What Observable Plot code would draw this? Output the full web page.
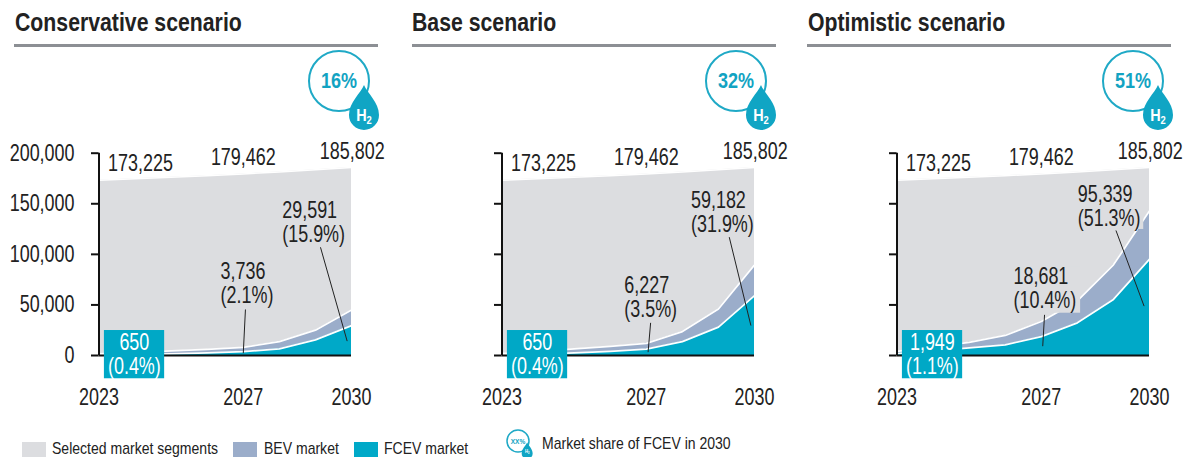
<!DOCTYPE html>
<html>
<head>
<meta charset="utf-8">
<script src="https://cdn.jsdelivr.net/npm/d3@7"></script>
<script src="https://cdn.jsdelivr.net/npm/@observablehq/plot@0.6"></script>
<style>
html,body{margin:0;padding:0;background:#fff;}
#root{position:relative;width:1190px;height:457px;overflow:hidden;font-family:"Liberation Sans",Arial,sans-serif;color:#222;}
.panel{position:absolute;top:130px;width:396px;}
.panel svg{max-width:none;}
.title{position:absolute;top:5px;font-weight:700;font-size:25px;line-height:34px;white-space:nowrap;color:#222;transform:scaleX(.85);transform-origin:0 0;}
.rule{position:absolute;top:44px;height:3px;background:#8c8f94;}
.lg{position:absolute;font-size:17px;line-height:20px;white-space:nowrap;color:#222;transform:scaleX(.825);transform-origin:0 0;}
.sw{position:absolute;top:442px;width:24px;height:15px;}
.badge{position:absolute;overflow:visible;}
</style>
</head>
<body>
<div id="root"></div>
<script>
const years = [2023, 2024, 2025, 2026, 2027, 2028, 2029, 2030];
const selectedMarket = [173225, 174700, 176200, 177800, 179462, 181500, 183600, 185802];

const scenarioNames = ["Conservative scenario", "Base scenario", "Optimistic scenario"];
const badgeShares = ["16%", "32%", "51%"];

const bevConservative = [1700, 3000, 4500, 6000, 8000, 13800, 25000, 45000];
const fcevConservative = [650, 1000, 1600, 2500, 3736, 6600, 15500, 29591];
const bevBase = [2000, 4000, 6500, 9000, 12000, 23700, 46000, 89600];
const fcevBase = [650, 1300, 2500, 4000, 6227, 13800, 28000, 59182];
const bevOptimistic = [4000, 8500, 13000, 19800, 33600, 54000, 89600, 143000];
const fcevOptimistic = [1949, 4500, 7500, 10500, 18681, 32300, 55400, 95339];

const totalLabels = ["173,225", "179,462", "185,802"];
const startLabels = ["650\n(0.4%)", "650\n(0.4%)", "1,949\n(1.1%)"];
const midLabels = ["3,736\n(2.1%)", "6,227\n(3.5%)", "18,681\n(10.4%)"];
const endLabels = ["29,591\n(15.9%)", "59,182\n(31.9%)", "95,339\n(51.3%)"];

const xTicks = [2023, 2027, 2030];
const yTicks = [0, 50000, 100000, 150000, 200000];
const legendNames = ["Selected market segments", "BEV market", "FCEV market", "Market share of FCEV in 2030"];

const font = '"Liberation Sans",Arial,sans-serif';
const GRAY = "#dcdde0", BEV = "#9badca", FCEV = "#00a9c8", INK = "#222";
const FS = 23, SQUEEZE = 0.78, LH = 1.05;

// annotation anchors, in data units (mid and end labels are left aligned)
const totalAnchors = [{x: 2024.15, y: 189800}, {x: 2027, y: 195750}, {x: 2030.02, y: 202000}];
const midAnchors = [{x: 2026.37, y: 71400}, {x: 2026.39, y: 57300}, {x: 2026.23, y: 66200}];
const endAnchors = [{x: 2028.08, y: 131500}, {x: 2028.24, y: 141700}, {x: 2028.01, y: 147500}];
const midLeaders = [
  {x1: 2027.06, y1: 45500, x2: 2027, y2: 2300},
  {x1: 2027.12, y1: 32300, x2: 2027.05, y2: 3300},
  {x1: 2027.09, y1: 40200, x2: 2027.04, y2: 9200}
];
const endLeaders = [
  {x1: 2029.14, y1: 107000, x2: 2029.88, y2: 14200},
  {x1: 2029.3, y1: 117000, x2: 2029.9, y2: 29600},
  {x1: 2029.07, y1: 123600, x2: 2029.85, y2: 48800}
];
const maskRects = [[], [], [
  {x1: 2027.99, x2: 2029.84, y1: 124600, y2: 170000},
  {x1: 2026.23, x2: 2028.09, y1: 41800, y2: 87300}
]];
const panelLefts = [0, 402.5, 798.2];
const panelTitleLefts = [15, 412, 808];
const ruleLefts = [14, 412, 807];
const bevSeries = [bevConservative, bevBase, bevOptimistic];
const fcevSeries = [fcevConservative, fcevBase, fcevOptimistic];

const root = document.getElementById("root");

function el(cls, css, text) {
  const d = document.createElement("div");
  d.className = cls;
  Object.assign(d.style, css);
  if (text) d.textContent = text;
  root.appendChild(d);
  return d;
}

function badge(cx, cy, r, label, fs, fsH, sw, hY) {
  const ns = "http://www.w3.org/2000/svg";
  const s = document.createElementNS(ns, "svg");
  s.setAttribute("class", "badge");
  s.setAttribute("width", 2 * r + 40);
  s.setAttribute("height", 2 * r + 40);
  s.style.left = (cx - r - 5) + "px";
  s.style.top = (cy - r - 5) + "px";
  const k = r / 30;
  const ox = r + 5, oy = r + 5;
  s.innerHTML =
    `<circle cx="${ox}" cy="${oy}" r="${r}" fill="#fff" stroke="#1fa9c6" stroke-width="${sw}"/>` +
    `<text transform="translate(${ox},${oy + 7 * k}) scale(.82,1)" text-anchor="middle" font-family='${font}' font-weight="700" font-size="${fs}" fill="#12a3c2">${label}</text>` +
    `<path transform="translate(${ox + 25 * k},${oy + 4 * k}) scale(${k})" d="M0 0 C3 8 15 17 15 30 A15 15 0 0 1 -15 30 C-15 17 -3 8 0 0 Z" fill="#10a5c4"/>` +
    `<text transform="translate(${ox + 25 * k},${oy + hY * k}) scale(.85,1)" text-anchor="middle" font-family='${font}' font-weight="700" font-size="${fsH}" fill="#fff">H<tspan font-size="${fsH * 0.65}" dy="${3 * k}">2</tspan></text>`;
  root.appendChild(s);
}

scenarioNames.forEach((name, i) => {
  el("title", {left: panelTitleLefts[i] + "px"}, name);
  el("rule", {left: ruleLefts[i] + "px", width: "364px"});

  const rows = years.map((year, k) => ({year, sel: selectedMarket[k], bev: bevSeries[i][k], fcev: fcevSeries[i][k]}));
  const totals = totalLabels.map((t, k) => ({...totalAnchors[k], t}));
  const showY = i === 0;

  const chart = Plot.plot({
    width: 396,
    height: 290,
    marginLeft: 98.5,
    marginRight: 45,
    marginTop: 22.7,
    marginBottom: 65,
    style: {fontFamily: font, background: "transparent", overflow: "visible", color: INK},
    x: {type: "linear", domain: [2023, 2030]},
    y: {type: "linear", domain: [0, 200000]},
    marks: [
      Plot.areaY(rows, {x: "year", y: "sel", fill: GRAY}),
      Plot.lineY(rows, {x: "year", y: "sel", stroke: "#fff", strokeWidth: 1.5}),
      Plot.areaY(rows, {x: "year", y: "bev", fill: BEV}),
      Plot.lineY(rows, {x: "year", y: "bev", stroke: "#fff", strokeWidth: 1.8}),
      Plot.rect(maskRects[i], {x1: "x1", x2: "x2", y1: "y1", y2: "y2", fill: GRAY}),
      Plot.areaY(rows, {x: "year", y: "fcev", fill: FCEV}),
      Plot.lineY(rows, {x: "year", y: "fcev", stroke: "#fff", strokeWidth: 1.8}),
      Plot.ruleY([0], {stroke: "#111", strokeWidth: 2}),
      Plot.ruleX([2023], {y1: 0, y2: 200000, stroke: "#111", strokeWidth: 2}),
      Plot.axisY({
        ticks: yTicks,
        tickSize: 7.5,
        tickPadding: 17,
        strokeWidth: 2,
        stroke: "#111",
        fontSize: FS,
        fill: INK,
        label: null,
        tickFormat: showY ? (d => d3.format(",")(d)) : () => ""
      }),
      Plot.axisX({
        ticks: xTicks,
        tickSize: 0,
        tickPadding: 33,
        fontSize: FS,
        fill: INK,
        label: null,
        tickFormat: d3.format("d")
      }),
      Plot.text(totals, {x: "x", y: "y", text: "t", fontSize: FS, fill: INK}),
      Plot.rect([{x1: 2023.15, x2: 2024.82, y1: -23000, y2: 24700}], {x1: "x1", x2: "x2", y1: "y1", y2: "y2", fill: "#00a8c6"}),
      Plot.text([startLabels[i]], {x: [2023.98], y: [1200], text: d => d, fontSize: FS, fill: "#fff", lineHeight: LH}),
      Plot.text([midLabels[i]], {x: [midAnchors[i].x], y: [midAnchors[i].y], text: d => d, textAnchor: "start", fontSize: FS, fill: INK, lineHeight: LH}),
      Plot.text([endLabels[i]], {x: [endAnchors[i].x], y: [endAnchors[i].y], text: d => d, textAnchor: "start", fontSize: FS, fill: INK, lineHeight: LH}),
      Plot.link([midLeaders[i], endLeaders[i]], {x1: "x1", y1: "y1", x2: "x2", y2: "y2", stroke: "#222", strokeWidth: 1})
    ]
  });
  // the reference's type is a horizontally condensed Arial
  chart.querySelectorAll("text").forEach(t => {
    const tr = t.getAttribute("transform") || "";
    t.setAttribute("transform", `${tr} scale(${SQUEEZE},1)`);
  });
  const holder = el("panel", {left: panelLefts[i] + "px"});
  holder.appendChild(chart);

  badge(339 + 397 * i, 81, 30, badgeShares[i], 22, 17, 2, 40);
});

// legend
[[22, GRAY], [233, BEV], [354, FCEV]].forEach(([x, c]) => el("sw", {left: x + "px", background: c}));
[[52, 439], [264, 439], [384, 439], [542, 434]].forEach(([x, y], k) => el("lg", {left: x + "px", top: y + "px"}, legendNames[k]));
badge(518, 441, 11, "XX%", 8, 5, 1.5, 33);
</script>
</body>
</html>
